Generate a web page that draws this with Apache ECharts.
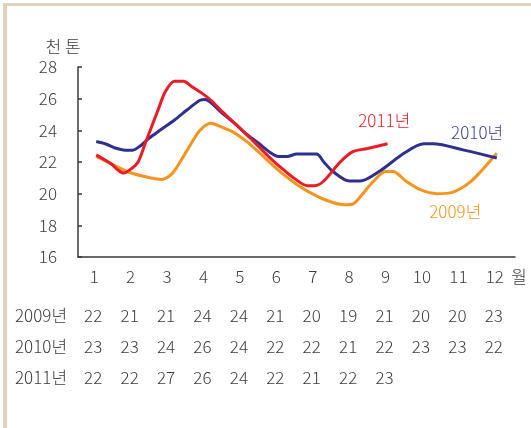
<!DOCTYPE html>
<html>
<head>
<meta charset="utf-8">
<script src="https://cdn.jsdelivr.net/npm/echarts@6/dist/echarts.min.js"></script>
<style>
    html, body { margin: 0; padding: 0; background: #fff; }
    #chart { position: absolute; left: 0; top: 0; width: 531px; height: 428px; }
    #frame {
        position: absolute; left: 3px; top: 3px; width: 528px; height: 425px;
        border-top: 3px solid #e0d3bb; border-left: 4px solid #e0d3bb;
        box-sizing: border-box; pointer-events: none;
    }
</style>
</head>
<body>
<div id="chart"></div>
<div id="frame"></div>
<script>
    // 월 (x축 눈금)
    var months = [1, 2, 3, 4, 5, 6, 7, 8, 9, 10, 11, 12];

    // 그래프 선 [월, 천 톤] - 그림에서 읽은 값
    var line2009 = [[1, 22.35], [1.4, 21.9], [1.85, 21.4], [2.3, 21.1], [2.8, 20.9], [3.0, 21.1], [3.15, 21.45],
        [3.5, 22.75], [3.85, 24.0], [4.15, 24.45], [4.45, 24.2], [4.75, 23.9], [5.1, 23.35], [5.45, 22.65],
        [5.8, 21.9], [6.15, 21.2], [6.5, 20.6], [6.85, 20.1], [7.3, 19.6], [7.8, 19.3], [8.05, 19.35],
        [8.25, 19.8], [8.6, 20.75], [8.95, 21.4], [9.15, 21.4], [9.5, 20.8], [9.9, 20.25], [10.35, 20.0],
        [10.8, 20.1], [11.25, 20.7], [11.6, 21.5], [12, 22.55]];
    var line2010 = [[1, 23.3], [1.25, 23.15], [1.5, 22.9], [1.8, 22.75], [2.0, 22.75], [2.2, 23.0], [2.45, 23.5],
        [2.75, 24.0], [3.15, 24.65], [3.5, 25.3], [3.85, 25.9], [4.0, 25.95], [4.15, 25.75], [4.45, 25.1],
        [4.8, 24.45], [5.1, 23.8], [5.45, 23.2], [5.75, 22.65], [6.0, 22.35], [6.25, 22.35], [6.5, 22.5],
        [7.05, 22.5], [7.25, 22.0], [7.5, 21.4], [7.95, 20.8], [8.25, 20.8], [8.8, 21.45], [9.45, 22.55],
        [10.0, 23.15], [10.25, 23.15], [11.1, 22.75], [12, 22.25]];
    var line2011 = [[1, 22.45], [1.4, 21.9], [1.75, 21.3], [1.95, 21.55], [2.15, 22.0], [2.35, 23.2], [2.7, 25.3],
        [2.9, 26.45], [3.15, 27.1], [3.4, 27.1], [3.6, 26.8], [3.9, 26.35], [4.15, 25.9], [4.45, 25.2],
        [4.75, 24.55], [5.1, 23.8], [5.45, 23.0], [5.8, 22.2], [6.15, 21.5], [6.45, 20.95], [6.8, 20.5],
        [7.0, 20.5], [7.25, 20.8], [7.7, 22.0], [8.05, 22.65], [8.45, 22.85], [9.0, 23.15]];

    // 아래 표
    var tableYears = ['2009년', '2010년', '2011년'];
    var table2009 = [22, 21, 21, 24, 24, 21, 20, 19, 21, 20, 20, 23];
    var table2010 = [23, 23, 24, 26, 24, 22, 22, 21, 22, 23, 23, 22];
    var table2011 = [22, 22, 27, 26, 24, 22, 21, 22, 23];

    var FONT = "'Noto Sans CJK KR', sans-serif";
    var INK = '#3d3d3d';
    var RED = '#ed1c24', NAVY = '#2e3192', ORANGE = '#f7941d';

    var chart = echarts.init(document.getElementById('chart'));
    var option = {
        animation: false,
        textStyle: { fontFamily: FONT },
        grid: { left: 78, right: 16, top: 67, bottom: 171 },
        xAxis: {
            type: 'value',
            min: 0.5,
            max: 12.5,
            axisLine: { lineStyle: { color: '#3a3a3a', width: 1.5 } },
            axisTick: { show: false },
            splitLine: { show: false },
            axisLabel: {
                customValues: months,
                formatter: function (v) { return String(v); },
                margin: 11,
                fontSize: 17,
                fontWeight: 300,
                color: INK,
                padding: [0, 4, 0, 0]
            }
        },
        yAxis: {
            type: 'value',
            min: 16,
            max: 28,
            interval: 2,
            axisLine: { show: true, lineStyle: { color: '#3a3a3a', width: 1.5 } },
            axisTick: { show: true, inside: true, length: 4, lineStyle: { color: '#3a3a3a', width: 1.5 } },
            splitLine: { show: false },
            axisLabel: { fontSize: 17, fontWeight: 300, margin: 21, color: INK }
        },
        series: [
            { name: '2009년', type: 'line', data: line2009, smooth: 0.3, showSymbol: false,
              lineStyle: { color: ORANGE, width: 3 }, itemStyle: { color: ORANGE }, z: 2 },
            { name: '2010년', type: 'line', data: line2010, smooth: 0.3, showSymbol: false,
              lineStyle: { color: NAVY, width: 3 }, itemStyle: { color: NAVY }, z: 3 },
            { name: '2011년', type: 'line', data: line2011, smooth: 0.3, showSymbol: false,
              lineStyle: { color: RED, width: 3 }, itemStyle: { color: RED }, z: 4 }
        ]
    };
    chart.setOption(option);

    function px(m, v) {
        return chart.convertToPixel({ gridIndex: 0 }, [m, v]);
    }
    function txt(x, y, text, color, align) {
        return {
            type: 'text', x: x, y: y,
            style: { text: text, fill: color, font: '300 17px ' + FONT, align: align || 'center', verticalAlign: 'middle' }
        };
    }

    var g = [];
    // 단위, 월
    g.push(txt(63, 47, '천 톤', INK));
    g.push(txt(519, 277, '월', INK));
    // 선 이름
    var p = px(8.91, 24.6);
    g.push(txt(p[0], p[1], '2011년', RED));
    p = px(11.46, 23.83);
    g.push(txt(p[0], p[1], '2010년', '#3b3f9c'));
    p = px(10.86, 18.9);
    g.push(txt(p[0], p[1], '2009년', ORANGE));

    // 표
    var rows = [table2009, table2010, table2011];
    var rowY = [316, 347, 378];
    rows.forEach(function (row, r) {
        g.push(txt(15, rowY[r], tableYears[r], INK, 'left'));
        row.forEach(function (val, i) {
            var cx = px(months[i], 16)[0] - 3;
            g.push(txt(cx, rowY[r], String(val), INK));
        });
    });
    chart.setOption({ graphic: g });
</script>
</body>
</html>
